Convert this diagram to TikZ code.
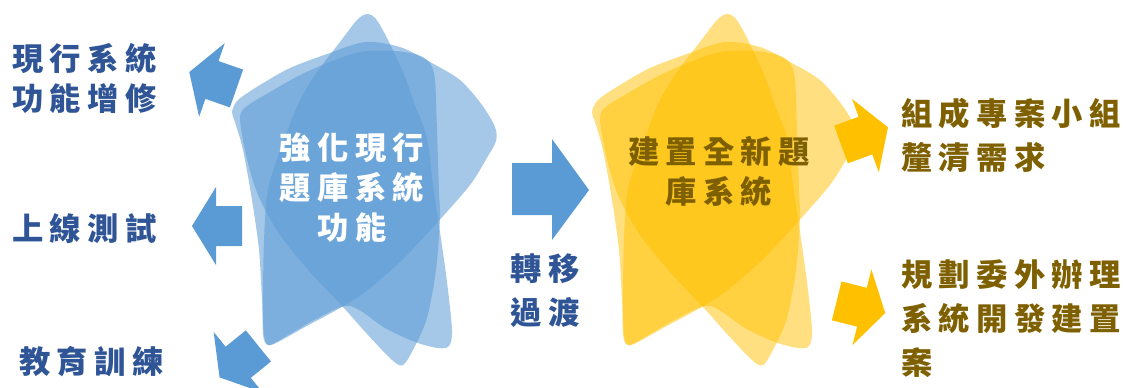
\documentclass[tikz,border=0pt]{standalone}
\usepackage{fontspec}
\newfontfamily\cjk{Noto Sans CJK TC}[LetterSpace=20]
\definecolor{acc}{HTML}{5B9BD5}
\definecolor{gold}{HTML}{FFC000}
\definecolor{txtblue}{HTML}{2F5597}
\definecolor{txtgold}{HTML}{7F6000}
\newcommand{\blkarrow}[4]{%
  \begin{scope}[shift={(#1,#2)},rotate=#3]
    \fill[#4] (0,-20) -- (26,-20) -- (26,-39) -- (50,0) -- (26,39) -- (26,20) -- (0,20) -- cycle;
  \end{scope}}
\newcommand{\starshapes}[1]{%
  % tall shape (apex)
  \fill[#1] plot[smooth cycle] coordinates {(357,20) (367,14) (376,19) (387,38) (403,72) (415,105) (427,138) (433,185) (440,232) (447,282) (452,330) (449,346) (438,348) (415,342) (385,328) (350,306) (318,318) (290,334) (269,345) (263,334) (263,290) (264,240) (267,195) (275,165) (287,132) (300,100) (317,72) (340,42)};
  % wide shape (dome)
  \fill[#1] plot[smooth cycle] coordinates {(232,112) (238,100) (260,85) (290,68) (327,54) (365,42) (400,47) (430,62) (460,80) (482,105) (495,127) (496,141) (488,156) (470,185) (435,225) (400,262) (365,292) (340,308) (305,327) (278,342) (268,345) (264,335) (262,300) (259,250) (252,200) (243,150) (235,122)};
  % shape with rounded top corner
  \fill[#1] plot[smooth cycle] coordinates {(240,118) (247,106) (270,92) (300,75) (330,62) (360,52) (395,51) (418,55) (430,63) (435,80) (437,130) (439,192) (440,218) (436,270) (427,318) (414,348) (403,365) (392,360) (368,335) (343,307) (310,272) (280,235) (258,195) (246,155)};
}
\tikzset{
  lbl/.style={font=\cjk\bfseries\fontsize{23.5}{30}\selectfont, inner sep=0pt},
  lblw/.style={font=\cjk\bfseries\fontsize{23.5}{33}\selectfont, inner sep=0pt},
  bluefill/.style={fill=acc, fill opacity=0.55},
  goldfill/.style={fill=gold, fill opacity=0.5}
}
\begin{document}
\begin{tikzpicture}[x=0.75pt,y=-0.75pt]
\useasboundingbox (0,0) rectangle (1126,387);
\clip (0,0) rectangle (1126,387);
% stars
\begin{scope}
  \starshapes{bluefill}
\end{scope}
\begin{scope}[shift={(360,0)}]
  \starshapes{goldfill}
\end{scope}
% blue arrows
\blkarrow{236.5}{88.5}{160.8}{acc}
\blkarrow{242}{226}{180}{acc}
\blkarrow{258.4}{345.9}{219}{acc}
% big middle arrow
\fill[acc] (512,163) -- (552,163) -- (552,139) -- (589,190) -- (552,240) -- (552,215) -- (512,215) -- cycle;
% yellow arrows
\blkarrow{841}{144.5}{20}{gold}
\blkarrow{836.7}{300.9}{-14}{gold}
% texts
\node[lbl, text=txtblue, anchor=west, align=left] (t1) at (12,79) {現行系統\\功能增修};
\node[lbl, text=txtblue, anchor=west, align=left] (t2) at (12,229) {上線測試};
\node[lbl, text=txtblue, anchor=west, align=left] (t3) at (19,362) {教育訓練};
\node[lbl, text=white, align=center] (c1) at (352,187.5) {強化現行\\題庫系統\\功能};
\node[lbl, text=txtgold, align=center] (c2) at (719,171.5) {建置全新題\\庫系統};
\node[lblw, text=txtblue, align=center] (m) at (545,291) {轉移\\過渡};
\node[lblw, text=txtgold, anchor=west, align=left] (r1) at (901,135) {組成專案小組\\釐清需求};
\node[lblw, text=txtgold, anchor=west, align=left] (r2) at (901,319) {規劃委外辦理\\系統開發建置\\案};
\end{tikzpicture}
\end{document}
